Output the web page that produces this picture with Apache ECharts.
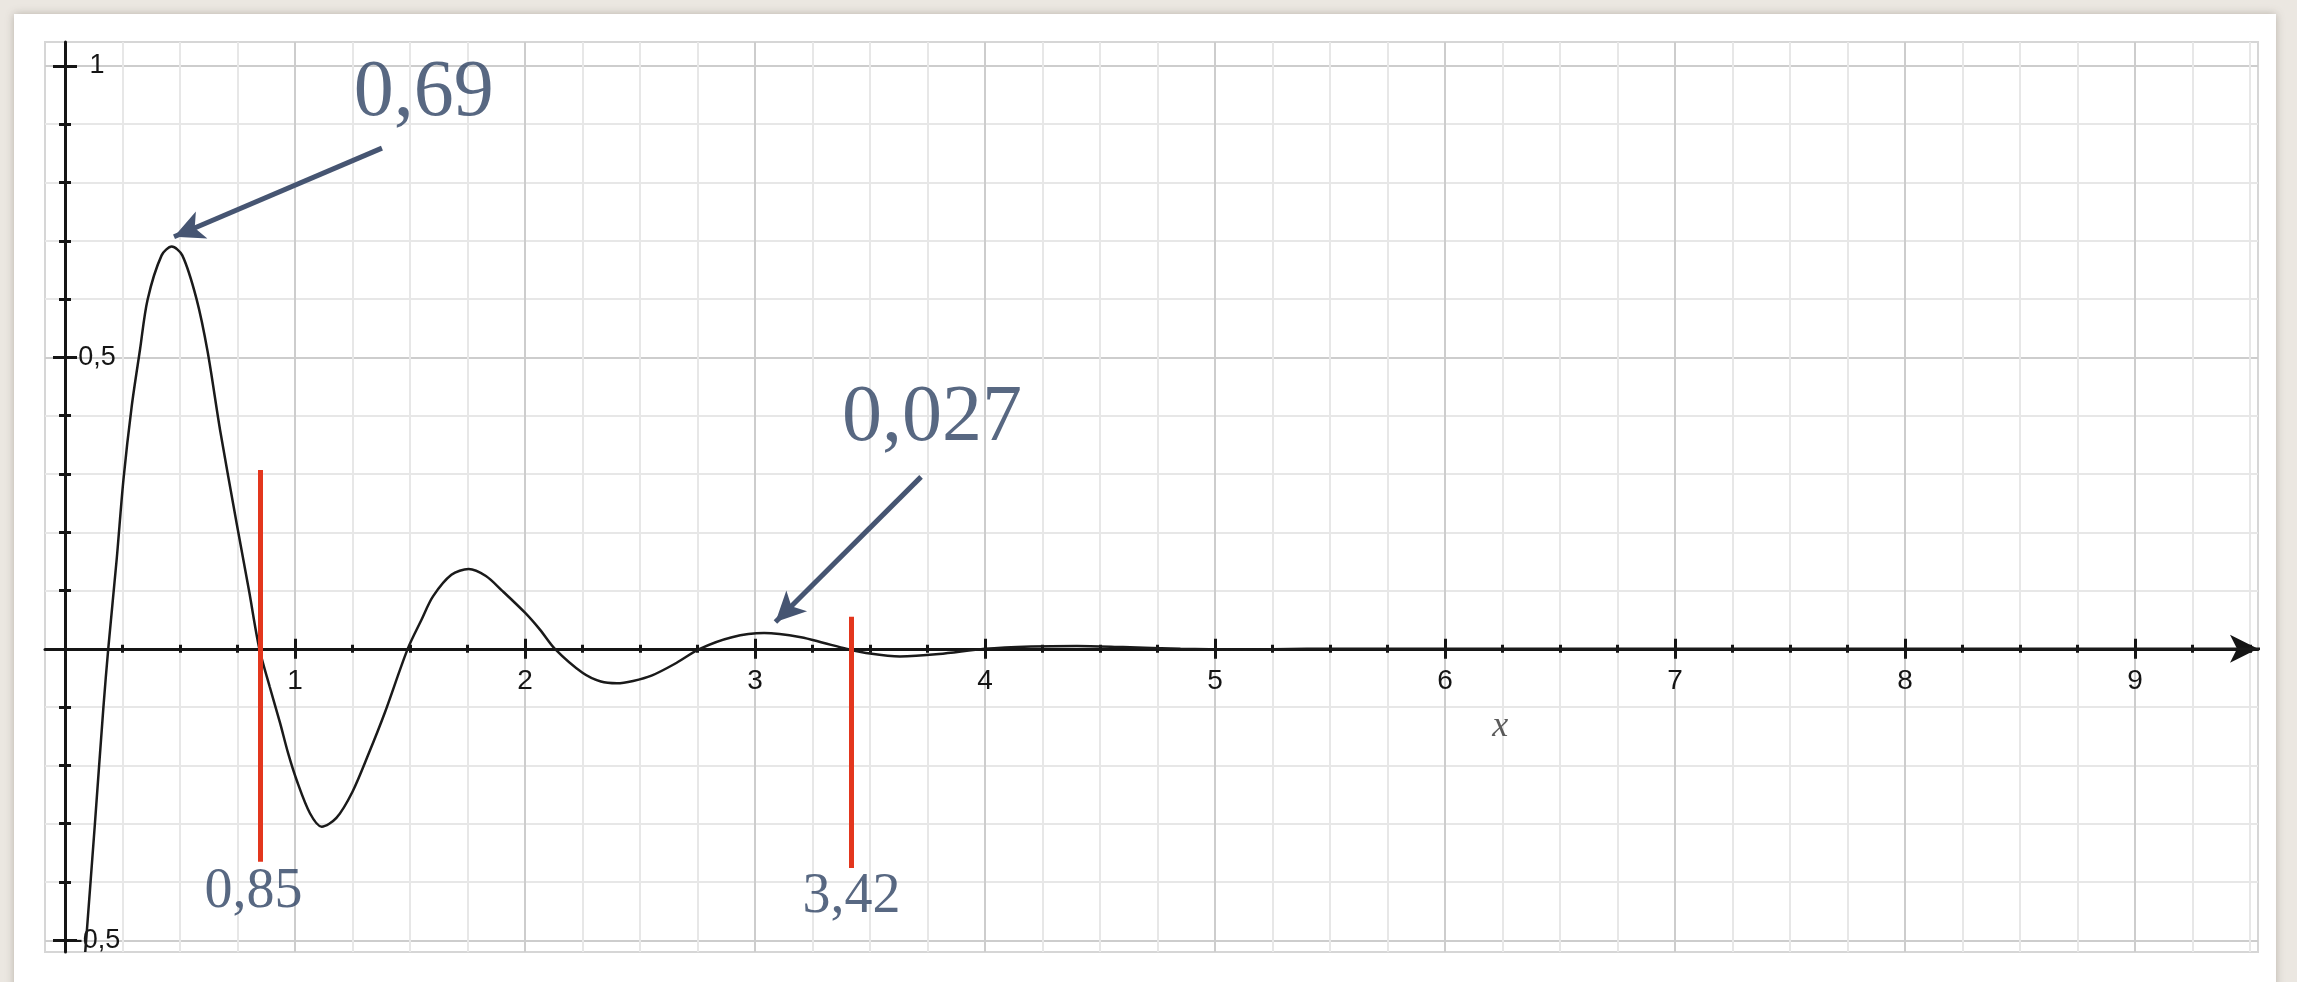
<!DOCTYPE html>
<html>
<head>
<meta charset="utf-8">
<script src="https://cdn.jsdelivr.net/npm/echarts@6/dist/echarts.min.js"></script>
<style>
  html, body {
    margin: 0;
    padding: 0;
    width: 2297px;
    height: 982px;
    overflow: hidden;
    background: #ebe7e1;
  }
  .card {
    position: absolute;
    left: 14px;
    top: 14px;
    width: 2262px;
    height: 990px;
    background: #fff;
    box-shadow: 0 0 8px rgba(90, 80, 70, 0.35);
  }
  #chart {
    position: absolute;
    left: 0;
    top: 0;
    width: 2297px;
    height: 982px;
  }
</style>
</head>
<body>
<div class="card"></div>
<div id="chart"></div>
<script>
// curve (x, y)
const curveX = [0.088, 0.13, 0.167, 0.188, 0.225, 0.254, 0.29, 0.326, 0.359, 0.42, 0.464, 0.51, 0.572, 0.62, 0.674, 0.746, 0.8, 0.845,
  0.89, 0.935, 0.97, 1.007, 1.065, 1.116, 1.18, 1.25, 1.32, 1.39, 1.49, 1.55, 1.6, 1.68, 1.755, 1.83, 1.9, 2.0, 2.065, 2.13,
  2.25, 2.33, 2.4, 2.47, 2.55, 2.65, 2.76, 2.9, 3.04, 3.2, 3.3, 3.4, 3.5, 3.63, 3.8, 4.0, 4.2, 4.4, 4.6, 4.85, 5.1, 5.4,
  6.0, 7.0, 8.0, 9.0, 9.55]
const curveY = [-0.52, -0.3, -0.1, 0.0, 0.155, 0.29, 0.416, 0.513, 0.599, 0.675, 0.69, 0.675, 0.6, 0.51, 0.376, 0.216, 0.1, 0.0,
  -0.065, -0.127, -0.179, -0.225, -0.282, -0.305, -0.29, -0.245, -0.18, -0.11, 0.0, 0.05, 0.09, 0.127, 0.137, 0.125, 0.1, 0.062, 0.033, 0.0,
  -0.041, -0.056, -0.059, -0.055, -0.046, -0.026, 0.0, 0.02, 0.027, 0.02, 0.01, 0.0, -0.008, -0.013, -0.009, 0.0, 0.004, 0.005, 0.003, 0.0, -0.001, 0.0,
  0, 0, 0, 0, 0]

// annotations
const peakLabels = ['0,69', '0,027']
const peakLabelX = [1.56, 3.77]
const peakLabelY = [0.952, 0.394]
const arrowFrom = [[1.378, 0.859], [3.722, 0.295]]
const arrowTo = [[0.474, 0.707], [3.089, 0.046]]

const markerX = [0.85, 3.42]
const markerTop = [0.307, 0.055]
const markerBottom = [-0.365, -0.376]
const markerLabels = ['0,85', '3,42']
const markerLabelX = [0.82, 3.42]
const markerLabelY = [-0.417, -0.427]

const axisTitle = 'x'
const axisTitlePos = [6.24, -0.133]

// axes
const xMin = -0.087
const xMax = 9.535
const yMin = -0.52
const yMax = 1.041
const xMinorTicks = [0, 0.25, 0.5, 0.75, 1, 1.25, 1.5, 1.75, 2, 2.25, 2.5, 2.75, 3, 3.25, 3.5, 3.75, 4, 4.25, 4.5, 4.75,
  5, 5.25, 5.5, 5.75, 6, 6.25, 6.5, 6.75, 7, 7.25, 7.5, 7.75, 8, 8.25, 8.5, 8.75, 9, 9.25, 9.5]
const xMajorTicks = [0, 1, 2, 3, 4, 5, 6, 7, 8, 9]
const xTickLabels = [1, 2, 3, 4, 5, 6, 7, 8, 9]
const yMinorTicks = [-0.5, -0.4, -0.3, -0.2, -0.1, 0, 0.1, 0.2, 0.3, 0.4, 0.5, 0.6, 0.7, 0.8, 0.9, 1]
const yMajorTicks = [-0.5, 0, 0.5, 1]
const yTickLabels = [-0.5, 0.5, 1]

const ink = '#151515'
const slate = '#2e4263'
const arrowColor = '#465572'

const gridBox = { left: 45, right: 39, top: 42, bottom: 30 }
const plotW = 2297 - gridBox.left - gridBox.right
const plotH = 982 - gridBox.top - gridBox.bottom

function axisBase(kind, position) {
  return {
    type: 'value',
    min: kind === 'x' ? xMin : yMin,
    max: kind === 'x' ? xMax : yMax,
    position: position,
    axisLine: { show: false, onZero: true, onZeroAxisIndex: 0 },
    axisTick: { show: false },
    axisLabel: { show: false },
    splitLine: { show: false },
  }
}

function tickAxis(kind, position, values, length, inside) {
  const axis = axisBase(kind, position)
  axis.axisTick = {
    show: true,
    customValues: values,
    length: length,
    inside: inside,
    lineStyle: { color: ink, width: 3 },
  }
  return axis
}

// x axes: minor grid + axis line, major grid, inner ticks, labels
const xMinor = tickAxis('x', 'bottom', xMinorTicks, 4, false)
xMinor.axisLine = {
  show: true,
  onZero: true,
  onZeroAxisIndex: 0,
  symbol: ['none', 'arrow'],
  symbolSize: [21, 28],
  symbolOffset: [0, 0],
  lineStyle: { color: ink, width: 3 },
}
xMinor.splitLine = { show: true, lineStyle: { color: '#e7e7e7', width: 2 } }

const xMajor = tickAxis('x', 'bottom', xMajorTicks, 10, false)
xMajor.splitLine = { show: true, lineStyle: { color: '#cdcdcd', width: 2 } }

const xMajorIn = tickAxis('x', 'bottom', xMajorTicks, 10, true)
const xMinorIn = tickAxis('x', 'bottom', xMinorTicks, 4, true)

// labels sit on the zero line of the other axis
const xLabels = axisBase('x', 'bottom')
xLabels.axisLine = { show: false, onZero: false }
xLabels.offset = -((0 - yMin) / (yMax - yMin)) * plotH
xLabels.axisLabel = {
  show: true,
  customValues: xTickLabels,
  margin: 18,
  fontSize: 28,
  fontFamily: 'Liberation Sans',
  color: ink,
}

// y axes
const yMinor = tickAxis('y', 'left', yMinorTicks, 6, false)
yMinor.axisLine = {
  show: true,
  onZero: true,
  onZeroAxisIndex: 0,
  lineStyle: { color: ink, width: 3 },
}
yMinor.splitLine = { show: true, lineStyle: { color: '#e7e7e7', width: 2 } }

const yMajor = tickAxis('y', 'left', yMajorTicks, 12, false)
yMajor.splitLine = { show: true, lineStyle: { color: '#cdcdcd', width: 2 } }

const yMajorIn = tickAxis('y', 'left', yMajorTicks, 12, true)
const yMinorIn = tickAxis('y', 'left', yMinorTicks, 6, true)

const yLabels = axisBase('y', 'left')
yLabels.axisLine = { show: false, onZero: false }
yLabels.offset = -((0 - xMin) / (xMax - xMin)) * plotW
yLabels.axisLabel = {
  show: true,
  customValues: yTickLabels,
  inside: true,
  align: 'center',
  margin: 32,
  fontSize: 27,
  fontFamily: 'Liberation Sans',
  color: ink,
  formatter: (v) => String(v).replace('.', ','),
}

const chart = echarts.init(document.getElementById('chart'))

const serif = 'Liberation Serif'

const textData = [
  ...peakLabels.map((t, i) => ({
    value: [peakLabelX[i], peakLabelY[i], t],
    label: { fontSize: 80, color: slate },
  })),
  ...markerLabels.map((t, i) => ({
    value: [markerLabelX[i], markerLabelY[i], t],
    label: { fontSize: 56, color: slate },
  })),
  {
    value: [axisTitlePos[0], axisTitlePos[1], axisTitle],
    label: { fontSize: 36, fontStyle: 'italic', color: '#333' },
  },
]

chart.setOption({
  animation: false,
  grid: {
    left: gridBox.left,
    right: gridBox.right,
    top: gridBox.top,
    bottom: gridBox.bottom,
    show: true,
    borderColor: '#d6d6d6',
    borderWidth: 2,
    backgroundColor: '#fff',
  },
  xAxis: [xMinor, xMajor, xMajorIn, xMinorIn, xLabels],
  yAxis: [yMinor, yMajor, yMajorIn, yMinorIn, yLabels],
  series: [
    {
      name: 'curve',
      type: 'line',
      data: curveX.map((x, i) => [x, curveY[i]]),
      showSymbol: false,
      smooth: 0.3,
      lineStyle: { color: '#1a1a1a', width: 2.5 },
      z: 3,
    },
    {
      name: 'markers',
      type: 'line',
      data: [],
      markLine: {
        silent: true,
        symbol: ['none', 'none'],
        label: { show: false },
        lineStyle: { color: '#e3361d', width: 5, type: 'solid' },
        data: markerX.map((x, i) => [{ coord: [x, markerTop[i]] }, { coord: [x, markerBottom[i]] }]),
      },
      z: 4,
    },
    {
      name: 'arrows',
      type: 'line',
      data: [],
      markLine: {
        silent: true,
        symbol: ['none', 'arrow'],
        label: { show: false },
        lineStyle: { color: arrowColor, width: 5, type: 'solid' },
        data: arrowFrom.map((p, i) => [
          { coord: p, symbol: 'none' },
          { coord: arrowTo[i], symbol: 'arrow', symbolSize: [22, 30] },
        ]),
      },
      z: 5,
    },
    {
      name: 'texts',
      type: 'scatter',
      symbolSize: 0,
      silent: true,
      data: textData,
      label: {
        show: true,
        position: 'inside',
        fontFamily: serif,
        formatter: (p) => p.value[2],
      },
      z: 6,
    },
  ],
})
</script>
</body>
</html>
